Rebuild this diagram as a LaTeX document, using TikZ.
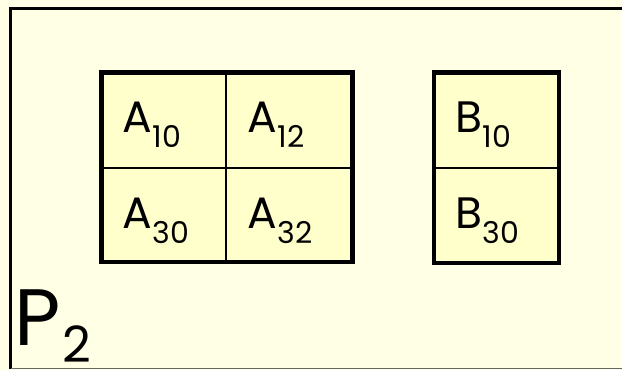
\documentclass[tikz,border=0pt]{standalone}
\usepackage{fontspec}
\setmainfont{Poppins}
\definecolor{bgc}{RGB}{255,255,230}
\definecolor{cellc}{RGB}{255,255,204}
\tikzset{
  cellbox/.style={draw=black, line width=1.3pt, fill=cellc, inner sep=0pt, outer sep=0pt, rectangle},
  frame/.style={draw=black, line width=4.5pt},
  lbl/.style={anchor=base west, inner sep=0pt, outer sep=0pt},
}
\newcommand{\cellt}[2]{{\fontsize{44}{44}\selectfont #1}\kern1pt\raisebox{-15pt}{\fontsize{30}{30}\selectfont #2}}
\begin{document}
\begin{tikzpicture}[x=1pt,y=-1pt]
\useasboundingbox (0,0) rectangle (622,370);
\fill[bgc] (0,0) rectangle (622,370);
\begin{scope}
\clip (0,0) rectangle (622,370);
\draw[line width=3pt] (640,8.5) -- (10.5,8.5) -- (10.5,369);
\draw[line width=1pt, black!60] (10.5,368.8) -- (640,368.8);
\end{scope}
% A block
\node[cellbox, minimum width=124.5pt, minimum height=95.5pt] (a10) at (163.75,120.25) {};
\node[cellbox, minimum width=126.5pt, minimum height=95.5pt] (a12) at (289.25,120.25) {};
\node[cellbox, minimum width=124.5pt, minimum height=94pt] (a30) at (163.75,215) {};
\node[cellbox, minimum width=126.5pt, minimum height=94pt] (a32) at (289.25,215) {};
\draw[frame] (a10.north west) rectangle (a32.south east);
% B block
\node[cellbox, minimum width=125pt, minimum height=95.5pt] (b10) at (496.5,120.25) {};
\node[cellbox, minimum width=125pt, minimum height=95pt] (b30) at (496.5,215.5) {};
\draw[frame] (b10.north west) rectangle (b30.south east);
% labels
\node[lbl] (ta10) at (122,132) {\cellt{A}{10}};
\node[lbl] (ta12) at (247,132) {\cellt{A}{12}};
\node[lbl] (ta30) at (122,228) {\cellt{A}{30}};
\node[lbl] (ta32) at (247,228) {\cellt{A}{32}};
\node[lbl] (tb10) at (455,132) {\cellt{B}{10}};
\node[lbl] (tb30) at (455,228) {\cellt{B}{30}};
\node[lbl] (p2) at (15,345) {{\fontsize{80}{80}\selectfont P}\kern1pt\raisebox{-17pt}{\fontsize{50}{50}\selectfont 2}};
\end{tikzpicture}
\end{document}
